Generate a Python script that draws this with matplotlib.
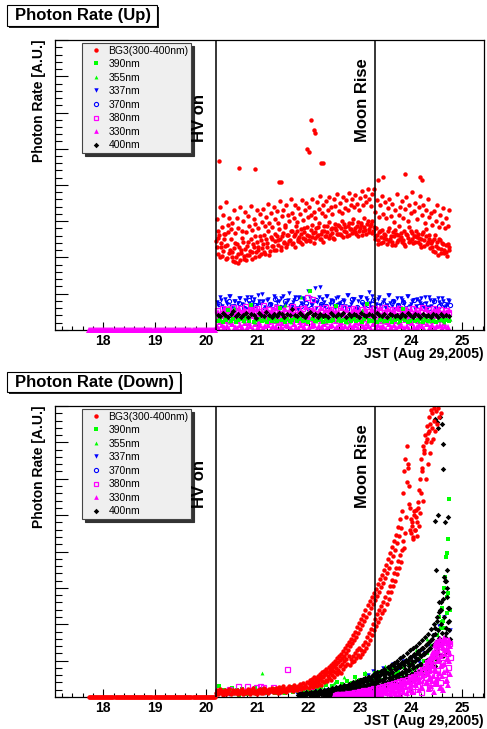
import numpy as np
import matplotlib
matplotlib.use('Agg')
import matplotlib.pyplot as plt
from matplotlib.lines import Line2D
from matplotlib.patches import Rectangle
from matplotlib.ticker import MultipleLocator, NullFormatter

plt.rcParams['font.family'] = ['Liberation Sans', 'DejaVu Sans']

W, H = 487, 729

HV_ON = 20.19
MOON_RISE = 23.30
X_RANGE = (17.06, 25.42)
Y_RANGE = (0, 8)

# before HV on every channel reads zero
PRE_T0, PRE_T1, PRE_DT = 17.72, 20.18, 0.02

#########################
## Photon rate (Up)
#########################
UP_RED_A = [2.45, 2.10, 2.62, 2.28, 2.05, 2.51, 2.33, 1.98, 2.70, 2.20,
            2.15, 1.90, 2.41, 2.02, 1.86, 2.30, 2.12, 2.55, 1.95, 2.24,
            2.08, 2.44, 2.18, 1.97, 2.36, 2.60, 2.14, 2.29, 2.03, 2.48,
            2.25, 2.62, 2.11, 2.40, 2.74, 2.19, 2.52, 2.33, 2.66, 2.21,
            2.47, 2.78, 2.30, 2.58, 2.42, 2.85, 2.36, 2.61, 2.49, 2.72,
            2.40, 2.64, 2.88, 2.45, 2.57, 2.79, 2.38, 2.69, 2.52, 2.83,
            2.60, 2.46, 2.91, 2.67, 2.53, 2.80, 2.62, 2.95, 2.50, 2.74,
            2.86, 2.58, 2.70, 2.97, 2.63, 2.82, 2.55, 2.92, 2.76, 2.65,
            2.88, 2.61, 3.02, 2.72, 2.84, 2.59, 2.96, 2.78, 2.68, 3.05,
            2.81, 2.66, 2.99, 2.74, 2.90, 2.62, 3.08, 2.77, 2.93, 2.70,
            2.86, 3.01, 2.73, 2.58, 2.82, 2.47, 2.69, 2.40, 2.76, 2.55,
            2.63, 2.38, 2.80, 2.52, 2.44, 2.71, 2.35, 2.66, 2.49, 2.87,
            2.57, 2.42, 2.74, 2.31, 2.62, 2.83, 2.46, 2.68, 2.39, 2.59,
            2.72, 2.44, 2.55, 2.30, 2.66, 2.48, 2.78, 2.36, 2.52, 2.27,
            2.45, 2.19, 2.61, 2.33, 2.08, 2.50, 2.24, 2.40, 2.12, 2.34,
            2.05, 2.28]
UP_RED_B = [3.05, 2.72, 3.40, 2.85, 3.18, 2.64, 3.52, 2.90, 3.10, 2.78,
            2.95, 3.30, 2.68, 3.08, 2.82, 3.38, 2.74, 3.02, 3.25, 2.70,
            3.15, 2.88, 3.42, 2.76, 3.05, 2.92, 3.30, 2.80, 3.20, 2.98,
            3.35, 2.86, 3.12, 3.48, 2.94, 3.22, 2.83, 3.40, 3.06, 3.28,
            2.96, 3.55, 3.14, 3.32, 2.90, 3.44, 3.18, 3.02, 3.60, 3.24,
            3.10, 3.46, 2.98, 3.36, 3.20, 3.58, 3.04, 3.30, 3.50, 3.12,
            3.40, 3.16, 3.62, 3.26, 3.08, 3.52, 3.34, 3.70, 3.22, 3.44,
            3.14, 3.56, 3.30, 3.66, 3.38, 3.20, 3.60, 3.42, 3.74, 3.28,
            3.50, 3.24, 3.68, 3.36, 3.58, 3.32, 3.78, 3.46, 3.62, 3.40,
            3.72, 3.48, 3.30, 3.64, 3.84, 3.44, 3.70, 3.54, 3.90, 3.60,
            3.42, 3.76, 3.88, 3.26, 3.58, 3.12, 3.46, 3.70, 3.20, 3.52,
            3.08, 3.36, 3.62, 3.14, 3.48, 2.98, 3.30, 3.74, 3.18, 3.40,
            3.56, 3.10, 3.34, 3.66, 3.02, 3.44, 3.22, 3.80, 3.28, 3.50,
            3.06, 3.38, 3.70, 3.16, 3.46, 2.96, 3.32, 3.60, 3.12, 3.24,
            2.90, 3.28, 3.02, 3.44, 2.84, 3.16, 2.94, 3.36, 2.80, 3.10,
            2.88, 3.30]
UP_RED_C = [2.30, 2.55, 2.02, 2.40, 2.18, 2.66, 1.96, 2.35, 2.12, 2.50,
            2.00, 2.25, 1.88, 2.36, 2.10, 1.92, 2.20, 2.44, 2.05, 1.94,
            2.32, 2.06, 2.52, 2.16, 2.28, 2.00, 2.42, 2.22, 2.58, 2.10,
            2.38, 2.16, 2.50, 2.28, 2.08, 2.56, 2.32, 2.20, 2.46, 2.60,
            2.34, 2.52, 2.22, 2.68, 2.40, 2.28, 2.62, 2.46, 2.74, 2.36,
            2.58, 2.30, 2.72, 2.50, 2.42, 2.66, 2.54, 2.80, 2.46, 2.62,
            2.48, 2.76, 2.56, 2.40, 2.70, 2.58, 2.84, 2.52, 2.66, 2.44,
            2.72, 2.60, 2.88, 2.54, 2.78, 2.68, 2.50, 2.82, 2.64, 2.90,
            2.66, 2.80, 2.56, 2.92, 2.70, 2.86, 2.62, 2.78, 2.94, 2.74,
            2.70, 2.88, 2.60, 2.82, 2.96, 2.72, 2.84, 2.66, 3.00, 2.78,
            2.92, 2.68, 2.84, 2.50, 2.62, 2.38, 2.72, 2.56, 2.44, 2.66,
            2.52, 2.74, 2.46, 2.60, 2.34, 2.58, 2.76, 2.42, 2.62, 2.50,
            2.68, 2.48, 2.36, 2.64, 2.54, 2.42, 2.72, 2.50, 2.60, 2.44,
            2.56, 2.64, 2.38, 2.52, 2.70, 2.32, 2.58, 2.44, 2.62, 2.40,
            2.30, 2.52, 2.16, 2.42, 2.26, 2.48, 2.12, 2.38, 2.22, 2.14,
            2.36, 2.20]
UP_RED_OUT_T = [20.26, 20.65, 20.95, 21.42, 21.47, 21.98, 22.00, 22.05, 22.10,
                22.12, 22.25, 22.28, 23.36, 23.46, 23.88, 24.17, 24.22]
UP_RED_OUT_Y = [4.66, 4.48, 4.43, 4.07, 4.07, 5.00, 4.92, 5.79, 5.52,
                5.43, 4.60, 4.62, 4.14, 4.22, 4.30, 4.23, 4.14]

UP_337 = [0.78, 0.92, 0.66, 0.85, 0.71, 0.95, 0.62, 0.80, 0.74, 0.88,
          0.69, 0.83, 0.58, 0.90, 0.76, 0.64, 0.97, 0.72, 0.81, 0.60,
          0.86, 0.70, 0.93, 0.67, 0.79, 0.89, 0.63, 0.75, 1.02, 0.68,
          0.84, 0.61, 0.91, 0.73, 0.82, 0.57, 0.88, 0.70, 1.15, 0.77,
          1.18, 0.86, 0.65, 0.94, 0.72, 0.80, 0.60, 0.90, 0.74, 0.83,
          0.66, 0.96, 0.71, 0.85, 0.62, 0.79, 0.92, 0.68, 0.87, 1.05,
          0.64, 0.81, 0.73, 0.90, 0.59, 0.84, 0.70, 0.97, 0.66, 0.78,
          0.88, 0.62, 0.83, 0.72, 0.93, 0.67, 0.80, 0.58, 0.86, 0.74,
          0.69, 0.91, 0.63, 0.82, 0.76, 0.60, 0.87, 0.71, 0.79, 0.65,
          0.84]
UP_337_B = [0.70, 0.84, 0.60, 0.77, 0.93, 0.66, 0.81, 0.56, 0.88, 0.73,
            0.62, 0.90, 0.75, 0.58, 0.86, 0.68, 0.79, 0.99, 0.64, 0.83,
            0.72, 0.57, 0.89, 0.76, 0.61, 0.94, 0.70, 0.82, 0.65, 0.78,
            0.91, 0.59, 0.74, 0.87, 0.66, 1.08, 0.71, 0.80, 0.62, 0.92,
            0.69, 0.76, 0.95, 0.58, 0.84, 0.67, 0.88, 0.73, 0.61, 0.80,
            0.96, 0.64, 0.77, 0.86, 0.59, 0.90, 0.72, 0.66, 0.82, 0.75,
            0.93, 0.60, 0.85, 0.70, 0.78, 0.63, 0.97, 0.74, 0.81, 0.58,
            0.68, 0.89, 0.76, 0.62, 0.94, 0.71, 0.84, 0.65, 0.79, 0.87,
            0.60, 0.74, 0.92, 0.67, 0.83, 0.56, 0.78, 0.88, 0.64, 0.73,
            0.81]
UP_370 = [0.72, 0.58, 0.81, 0.66, 0.75, 0.62, 0.84, 0.69, 0.77, 0.60,
          0.73, 0.86, 0.64, 0.79, 0.70, 0.88, 0.67, 0.74, 0.61, 0.83,
          0.71, 0.65, 0.80, 0.68, 0.76, 0.59, 0.85, 0.63, 0.78, 0.70,
          0.82, 0.66, 0.74, 0.61, 0.80, 0.69, 0.76, 0.63, 0.84, 0.67,
          0.72, 0.60, 0.79, 0.65, 0.73, 0.68]
UP_380 = [0.55, 0.42, 0.61, 0.48, 0.58, 0.38, 0.64, 0.52, 0.45, 0.60,
          0.50, 0.66, 0.40, 0.57, 0.47, 0.62, 0.53, 0.43, 0.68, 0.49,
          0.59, 0.41, 0.56, 0.63, 0.46, 0.54, 0.39, 0.60, 0.51, 0.65,
          0.44, 0.58, 0.48, 0.62, 0.37, 0.92, 0.55, 0.85, 0.47, 0.61,
          0.52, 0.42, 0.64, 0.50, 0.57, 0.45, 0.60, 0.40, 0.55, 0.63,
          0.48, 0.58, 0.44, 0.62, 0.51, 0.39, 0.57, 0.47, 0.66, 0.53,
          0.43, 0.61, 0.49, 0.56, 0.41, 0.64, 0.52, 0.46, 0.59, 0.38,
          0.55, 0.62, 0.44, 0.58, 0.50, 0.40, 0.60, 0.47, 0.54, 0.42,
          0.63, 0.49, 0.57, 0.45, 0.61, 0.52, 0.43, 0.58, 0.48, 0.55,
          0.50]
UP_330_A = [0.10, 0.04, 0.15, 0.07, 0.12, 0.03, 0.17, 0.09, 0.05, 0.14,
            0.08, 0.18, 0.06, 0.11, 0.02, 0.16, 0.09, 0.13, 0.05, 0.10,
            0.15, 0.04, 0.12, 0.07, 0.19, 0.08, 0.03, 0.14, 0.10, 0.06,
            0.16, 0.09, 0.04, 0.13, 0.07, 0.18, 0.05, 0.11, 0.15, 0.03,
            0.12, 0.08, 0.17, 0.06, 0.10, 0.14, 0.04, 0.09, 0.16, 0.07,
            0.11, 0.03, 0.15, 0.08, 0.13, 0.05, 0.18, 0.10, 0.06, 0.12,
            0.04, 0.16, 0.09, 0.14, 0.07, 0.11, 0.02, 0.17, 0.08, 0.13,
            0.05, 0.10, 0.15, 0.06, 0.12, 0.03, 0.18, 0.09, 0.07, 0.14,
            0.11, 0.04, 0.16, 0.08, 0.13, 0.06, 0.10, 0.15, 0.05, 0.12,
            0.09]
UP_330_B = [0.30, 0.22, 0.38, 0.26, 0.34, 0.21, 0.40, 0.28, 0.24, 0.36,
            0.27, 0.33, 0.20, 0.39, 0.25, 0.31, 0.23, 0.37, 0.29, 0.35,
            0.22, 0.41, 0.26, 0.32, 0.28, 0.20, 0.36, 0.30, 0.24, 0.38,
            0.27, 0.34, 0.21, 0.39, 0.25, 0.31, 0.29, 0.23, 0.37, 0.33,
            0.26, 0.40, 0.22, 0.35, 0.28, 0.30, 0.24, 0.38, 0.21, 0.32,
            0.36, 0.25, 0.29, 0.41, 0.23, 0.34, 0.27, 0.31, 0.20, 0.37,
            0.28, 0.33, 0.24, 0.39, 0.26, 0.30, 0.22, 0.35, 0.29, 0.25,
            0.38, 0.21, 0.32, 0.27, 0.36, 0.23, 0.30, 0.40, 0.26, 0.34,
            0.22, 0.37, 0.28, 0.31, 0.24, 0.39, 0.27, 0.33, 0.20, 0.35,
            0.29]
UP_330_C = [0.50, 0.42, 0.58, 0.46, 0.62, 0.40, 0.54, 0.48, 0.60, 0.44,
            0.56, 0.38, 0.52, 0.61, 0.45, 0.57, 0.41, 0.53, 0.49, 0.59,
            0.43, 0.55, 0.47, 0.62, 0.39, 0.51, 0.58, 0.44, 0.56, 0.48,
            0.60, 0.42, 0.54, 0.46, 0.63, 0.40, 0.52, 0.57, 0.45, 0.50,
            0.61, 0.43, 0.55, 0.48, 0.59, 0.41, 0.53, 0.46, 0.62, 0.44,
            0.56, 0.39, 0.51, 0.58, 0.47, 0.54, 0.42, 0.60, 0.49, 0.45,
            0.57, 0.41, 0.53, 0.62, 0.44, 0.50, 0.59, 0.43, 0.55, 0.47,
            0.61, 0.40, 0.52, 0.56, 0.46, 0.58, 0.42, 0.54, 0.48, 0.60,
            0.44, 0.57, 0.50, 0.41, 0.55, 0.47, 0.59, 0.43, 0.53, 0.49,
            0.56]
UP_390 = [0.26, 0.30, 0.23, 0.28, 0.55, 0.25, 0.31, 0.22, 0.27, 0.29,
          0.24, 0.32, 0.26, 0.70, 0.23, 0.28, 0.30, 0.25, 0.27, 0.22,
          0.31, 0.26, 0.29, 0.24, 0.60, 0.28, 0.23, 0.30, 0.25, 0.27,
          0.32, 0.24, 0.29, 0.26, 0.28, 0.22, 1.08, 0.30, 0.25, 0.27,
          0.31, 0.23, 0.29, 0.26, 0.24, 0.28, 0.65, 0.30, 0.25, 0.27,
          0.22, 0.29, 0.26, 0.31, 0.24, 0.28, 0.23, 0.30, 0.72, 0.27,
          0.25, 0.29, 0.22, 0.28, 0.31, 0.24, 0.26, 0.30, 0.23, 0.27,
          0.29, 0.25, 0.58, 0.28, 0.22, 0.26, 0.30, 0.24, 0.27, 0.31,
          0.23, 0.28, 0.25, 0.29, 0.26, 0.22, 0.30, 0.27, 0.24, 0.28,
          0.25]
UP_355 = [0.28, 0.34, 0.24, 0.62, 0.30, 0.26, 0.36, 0.22, 0.31, 0.27,
          0.33, 0.25, 0.29, 0.68, 0.23, 0.35, 0.90, 0.28, 0.32, 0.26,
          0.30, 0.24, 0.37, 0.27, 0.31, 0.22, 0.34, 0.29, 0.55, 0.26,
          0.33, 0.28, 0.25, 0.36, 0.30, 0.23, 0.32, 0.27, 0.29, 0.24,
          0.35, 0.26, 0.31, 0.28, 0.23, 0.30]
UP_400 = [0.42, 0.38, 0.47, 0.40, 0.36, 0.45, 0.52, 0.39, 0.43, 0.35,
          0.41, 0.48, 0.37, 0.44, 0.40, 0.34, 0.46, 0.42, 0.38, 0.50,
          0.41, 0.36, 0.44, 0.39, 0.47, 0.43, 0.37, 0.45, 0.40, 0.58,
          0.42, 0.38, 0.46, 0.41, 0.35, 0.44, 0.49, 0.40, 0.43, 0.37,
          0.45, 0.39, 0.42, 0.36, 0.47, 0.41, 0.38, 0.44, 0.40, 0.46,
          0.37, 0.43, 0.39, 0.45, 0.41, 0.36, 0.48, 0.42, 0.38, 0.44,
          0.40, 0.35, 0.46, 0.41, 0.39, 0.43, 0.37, 0.45, 0.40, 0.38,
          0.42, 0.36, 0.44, 0.39, 0.47, 0.41, 0.37, 0.43, 0.40, 0.35,
          0.45, 0.38, 0.42, 0.36, 0.44, 0.40, 0.37, 0.43, 0.39, 0.41,
          0.38]

#########################
## Photon rate (Down)
#########################
DN_RED = [0.12, 0.18, 0.08, 0.15, 0.22, 0.10, 0.16, 0.06, 0.13, 0.20,
          0.09, 0.17, 0.11, 0.21, 0.07, 0.14, 0.19, 0.10, 0.16, 0.12,
          0.20, 0.08, 0.15, 0.11, 0.18, 0.23, 0.09, 0.14, 0.17, 0.10,
          0.16, 0.21, 0.12, 0.08, 0.19, 0.14, 0.24, 0.11, 0.17, 0.13,
          0.09, 0.20, 0.15, 0.22, 0.12, 0.18, 0.10, 0.25, 0.14, 0.19,
          0.16, 0.11, 0.23, 0.17, 0.26, 0.13, 0.20, 0.15, 0.24, 0.18,
          0.12, 0.27, 0.19, 0.15, 0.22, 0.29, 0.17, 0.21, 0.14, 0.26,
          0.20, 0.31, 0.18, 0.24, 0.28, 0.16, 0.33, 0.22, 0.27, 0.19,
          0.30, 0.25, 0.35, 0.21, 0.28, 0.38, 0.24, 0.32, 0.27, 0.41,
          0.26, 0.36, 0.30, 0.44, 0.28, 0.39, 0.34, 0.47, 0.31, 0.42,
          0.37, 0.50, 0.33, 0.45, 0.55, 0.40, 0.62, 0.48, 0.43, 0.58,
          0.52, 0.66, 0.46, 0.60, 0.72, 0.55, 0.68, 0.80, 0.63, 0.75,
          0.70, 0.86, 0.66, 0.92, 0.78, 0.98, 0.84, 1.05, 0.90, 1.12,
          0.88, 1.05, 0.95, 1.12, 1.00, 1.20, 1.08, 1.28, 1.15, 1.35,
          1.10, 1.30, 1.18, 1.42, 1.26, 1.52, 1.36, 1.64, 1.46, 1.76,
          1.56, 1.88, 1.70, 2.02, 1.84, 2.15, 1.96, 2.28, 2.06, 2.38,
          2.18, 2.50, 2.30, 2.62, 2.40, 2.76, 2.55, 2.90, 2.70, 3.06,
          2.88, 3.22, 3.05, 3.40, 3.20, 3.56, 3.38, 3.74, 3.55, 3.90,
          3.70, 4.05, 4.30, 4.10, 4.50, 4.95, 5.90, 6.30, 5.30, 4.60,
          4.50, 4.80, 4.35, 5.10, 4.60, 4.95, 4.42, 5.20, 4.70, 5.05,
          5.60, 6.20, 5.40, 6.80, 6.00, 7.10, 6.40, 7.30, 6.70, 7.00,
          7.40, 7.10, 7.60, 7.30, 7.85, 7.50, 7.95, 7.70, 8.10, 7.80]
DN_RED_B = [0.38, 0.46, 0.34, 0.50, 0.42, 0.55, 0.40, 0.52, 0.47, 0.58,
            0.50, 0.62, 0.55, 0.68, 0.58, 0.72, 0.63, 0.78, 0.68, 0.82,
            0.74, 0.88, 0.79, 0.94, 0.85, 1.00, 0.90, 1.06, 0.96, 1.12,
            1.02, 1.18, 1.08, 1.26, 1.14, 1.34, 1.22, 1.42, 1.30, 1.52,
            1.40, 1.60, 1.48, 1.70, 1.56, 1.80, 1.66, 1.92, 1.76, 2.04,
            1.86, 2.14, 1.98, 2.26, 2.08, 2.40, 2.20, 2.52, 2.32, 2.64,
            2.44, 2.76, 2.56, 2.86, 2.66, 2.98, 2.78, 3.10, 2.90, 3.24,
            3.02, 3.36, 3.14, 3.50, 3.28, 3.64, 3.42, 3.80, 3.56, 3.96,
            3.72, 4.12, 3.88, 4.28, 4.04, 4.46, 4.22, 4.66, 4.42, 4.88,
            4.64, 5.10, 5.60, 6.20, 6.55, 6.90, 6.40, 5.80, 5.20, 4.90,
            4.70, 4.40, 5.00, 4.60, 5.15, 4.80, 5.35, 5.70, 6.00, 6.55,
            6.30, 6.90, 6.70, 7.20, 7.00, 7.45, 7.25, 7.70, 7.50, 7.90,
            7.80, 8.10, 7.95, 8.20, 8.05]
DN_400_A = [0.05, 0.10, 0.03, 0.08, 0.12, 0.04, 0.09, 0.06, 0.14, 0.07,
            0.11, 0.05, 0.15, 0.08, 0.12, 0.04, 0.17, 0.10, 0.06, 0.13,
            0.09, 0.18, 0.07, 0.14, 0.11, 0.20, 0.08, 0.16, 0.12, 0.22,
            0.10, 0.19, 0.14, 0.25, 0.09, 0.21, 0.16, 0.28, 0.12, 0.24,
            0.18, 0.30, 0.13, 0.26, 0.20, 0.34, 0.15, 0.29, 0.22, 0.36,
            0.17, 0.32, 0.25, 0.40, 0.19, 0.35, 0.27, 0.44, 0.21, 0.38,
            0.30, 0.48, 0.24, 0.42, 0.33, 0.52, 0.26, 0.45, 0.36, 0.56,
            0.28, 0.50, 0.39, 0.60, 0.31, 0.54, 0.43, 0.64, 0.34, 0.58,
            0.46, 0.68, 0.37, 0.62, 0.50, 0.72, 0.40, 0.66, 0.53, 0.78,
            0.44, 0.70, 0.57, 0.84, 0.48, 0.76, 0.60, 0.90, 0.52, 0.82,
            0.65, 0.95, 0.56, 0.88, 0.70, 1.02, 0.60, 0.93, 0.75, 1.10,
            0.64, 1.00, 0.80, 1.18, 0.68, 1.08, 0.86, 1.26, 0.72, 1.15,
            0.92, 1.35, 0.78, 1.22, 1.00, 1.45, 0.85, 1.32, 1.08, 1.58,
            0.95, 1.70, 1.20, 1.90, 1.05, 2.10, 1.40, 2.35, 1.15, 2.60,
            1.50, 2.90, 1.30, 3.20, 1.75, 3.50, 2.05, 2.45, 1.60]
DN_400_B = [0.02, 0.07, 0.04, 0.10, 0.03, 0.08, 0.05, 0.12, 0.06, 0.09,
            0.14, 0.07, 0.18, 0.10, 0.22, 0.12, 0.16, 0.26, 0.13, 0.20,
            0.30, 0.17, 0.24, 0.35, 0.19, 0.28, 0.40, 0.22, 0.33, 0.45,
            0.27, 0.38, 0.52, 0.31, 0.44, 0.58, 0.36, 0.50, 0.65, 0.42,
            0.56, 0.74, 0.48, 0.62, 0.82, 0.55, 0.70, 0.92, 0.64, 0.80,
            1.02, 0.74, 0.90, 1.15, 0.85, 1.30, 1.00, 1.45, 1.12, 1.65,
            1.25, 1.85]
DN_400_C = [0.06, 0.12, 0.04, 0.15, 0.09, 0.18, 0.07, 0.13, 0.20, 0.10,
            0.16, 0.08, 0.22, 0.12, 0.26, 0.14, 0.19, 0.30, 0.11, 0.24,
            0.33, 0.17, 0.28, 0.38, 0.21, 0.32, 0.14, 0.42, 0.26, 0.36,
            0.46, 0.22, 0.40, 0.50, 0.30, 0.18, 0.44, 0.55, 0.34, 0.48,
            0.26, 0.58, 0.40, 0.62, 0.32, 0.52, 0.68, 0.44, 0.28, 0.60,
            0.72, 0.48, 0.36, 0.78, 0.56, 0.66, 0.42, 0.82, 0.62, 0.50,
            0.88, 0.70, 0.46, 0.94, 0.76, 0.58, 1.00, 0.84, 0.64, 1.06,
            0.90, 0.70, 1.12, 0.96, 0.78, 1.20, 1.02, 0.86, 1.28, 1.10,
            0.92, 1.34, 1.16, 0.98, 1.40, 1.22, 1.05, 1.48, 1.30, 1.12,
            1.56, 1.36, 1.18, 1.64, 1.44, 1.26, 1.74, 1.52, 1.34, 1.86,
            1.60, 1.42, 2.00, 1.72, 1.50, 2.20, 1.85, 1.62, 2.40, 2.00,
            1.75, 2.70, 2.20, 1.90, 3.00, 2.45, 2.10]
DN_400_OUT_T = [24.46, 24.50, 24.53, 24.56, 24.60, 24.63, 24.62, 24.47, 24.52,
                24.66, 24.72, 24.49, 24.64, 24.68, 24.55, 24.70, 24.58]
DN_400_OUT_Y = [7.65, 7.55, 7.40, 7.70, 7.50, 6.95, 6.28, 4.85, 5.00,
                4.80, 4.95, 3.50, 3.30, 3.20, 2.60, 2.75, 2.40]
DN_390 = [0.30, 0.12, 0.20, 0.08, 0.15, 0.25, 0.10, 0.18, 0.06, 0.22,
          0.14, 0.09, 0.19, 0.11, 0.24, 0.07, 0.16, 0.21, 0.13, 0.10,
          0.18, 0.23, 0.12, 0.20, 0.15, 0.26, 0.11, 0.19, 0.28, 0.14,
          0.22, 0.17, 0.30, 0.13, 0.25, 0.20, 0.33, 0.16, 0.28, 0.22,
          0.28, 0.15, 0.34, 0.20, 0.30, 0.18, 0.40, 0.24, 0.36, 0.26,
          0.45, 0.30, 0.38, 0.55, 0.33, 0.46, 0.40, 0.62, 0.44, 0.52,
          0.48, 0.66, 0.52, 0.70, 0.46, 0.58, 0.74, 0.54, 0.80, 0.62,
          0.70, 0.58, 0.82, 0.66, 0.90, 0.74, 0.96, 0.80, 1.05, 0.88,
          1.00, 1.20, 0.95, 1.40, 1.15, 1.70, 1.40, 2.05, 1.90, 2.30,
          2.40]
DN_390_OUT_T = [24.55, 24.60, 24.64, 24.66, 24.68, 24.70, 24.72, 24.73, 24.69,
                24.71, 24.62, 24.58]
DN_390_OUT_Y = [2.20, 2.45, 3.00, 3.30, 3.85, 3.95, 4.35, 5.45, 2.75,
                2.85, 2.10, 1.90]
DN_355 = [0.18, 0.12, 0.22, 0.15, 0.65, 0.20, 0.14, 0.25, 0.18, 0.30,
          0.24, 0.38, 0.55, 0.48, 0.70, 0.62, 0.85, 0.78, 1.05, 1.30,
          1.60, 2.10, 2.80]
DN_337 = [0.10, 0.14, 0.08, 0.12, 0.16, 0.09, 0.13, 0.11, 0.15, 0.10,
          0.14, 0.18, 0.12, 0.16, 0.20, 0.13, 0.17, 0.22, 0.15, 0.19,
          0.24, 0.18, 0.28, 0.22, 0.32, 0.26, 0.36, 0.30, 0.45, 0.60,
          0.72, 0.55, 0.80, 0.68, 0.90, 0.75, 1.00, 0.85, 1.10, 0.95,
          1.20, 1.45, 1.70, 1.95, 2.20, 1.85]
DN_380_EARLY_T = [20.45, 20.62, 20.80, 20.98, 21.05, 21.12, 21.30, 21.59, 21.75, 22.05]
DN_380_EARLY_Y = [0.22, 0.30, 0.30, 0.28, 0.30, 0.28, 0.28, 0.76, 0.25, 0.30]
DN_380 = [0.05, 0.02, 0.08, 0.04, 0.07, 0.02, 0.09, 0.05, 0.07, 0.03,
          0.09, 0.06, 0.03, 0.11, 0.07, 0.02, 0.12, 0.08, 0.05, 0.13,
          0.07, 0.15, 0.03, 0.11, 0.17, 0.06, 0.14, 0.09, 0.19, 0.04,
          0.16, 0.20, 0.08, 0.12, 0.22, 0.05, 0.18, 0.24, 0.10, 0.15,
          0.26, 0.04, 0.20, 0.28, 0.12, 0.23, 0.30, 0.16, 0.08, 0.28,
          0.32, 0.20, 0.13, 0.35, 0.24, 0.07, 0.33, 0.38, 0.18, 0.30,
          0.40, 0.12, 0.35, 0.44, 0.26, 0.20, 0.46, 0.38, 0.06, 0.45,
          0.50, 0.32, 0.22, 0.54, 0.42, 0.16, 0.58, 0.38, 0.48, 0.64,
          0.30, 0.58, 0.72, 0.46, 0.14, 0.78, 0.64, 0.40, 0.85, 0.55,
          0.95, 0.74, 0.28, 1.02, 0.62, 0.88, 1.15, 0.50, 1.05, 1.30,
          0.75, 1.40, 1.15, 0.42, 1.50, 0.95, 1.38, 0.62, 1.56, 1.22,
          0.82, 1.48, 1.10]
DN_330 = [0.03, 0.06, 0.02, 0.05, 0.08, 0.03, 0.06, 0.02, 0.09, 0.04,
          0.07, 0.03, 0.10, 0.05, 0.04, 0.09, 0.06, 0.11, 0.04, 0.08,
          0.10, 0.05, 0.12, 0.07, 0.14, 0.04, 0.11, 0.15, 0.08, 0.13,
          0.06, 0.16, 0.10, 0.18, 0.07, 0.14, 0.19, 0.11, 0.05, 0.17,
          0.20, 0.09, 0.15, 0.22, 0.12, 0.06, 0.19, 0.24, 0.13, 0.18,
          0.26, 0.10, 0.21, 0.29, 0.15, 0.05, 0.24, 0.32, 0.18, 0.12,
          0.30, 0.36, 0.20, 0.08, 0.33, 0.40, 0.24, 0.15, 0.37, 0.44,
          0.28, 0.10, 0.42, 0.50, 0.20, 0.35, 0.55, 0.14, 0.46, 0.60,
          0.32, 0.52, 0.66, 0.20, 0.44, 0.72, 0.28, 0.60, 0.80, 0.38,
          0.70, 0.90, 0.25, 0.56, 1.00, 0.45, 0.85, 1.12, 0.35, 0.72,
          1.30, 0.55, 1.05, 1.42, 0.28, 0.88, 1.50, 0.70, 1.18, 1.56,
          0.48, 1.32, 1.00, 1.50]
DN_330_END = [0.85, 0.40, 0.98, 0.62, 0.22, 1.02, 0.76, 0.50, 1.08, 0.30,
              1.15, 0.88, 0.58, 1.25, 0.15, 1.10, 1.42, 0.78, 0.48, 1.50,
              1.22, 0.36, 1.55, 1.00, 0.66, 1.45, 0.26, 1.60, 1.12, 0.84,
              1.52, 0.58, 1.38, 0.18, 1.62, 0.92, 1.30, 0.44, 1.58, 1.05,
              0.74, 1.48, 0.34, 1.25, 1.56, 0.62, 1.40]

CHANNELS = ['BG3(300-400nm)', '390nm', '355nm', '337nm', '370nm', '380nm', '330nm', '400nm']
STYLE = {
    'BG3(300-400nm)': dict(marker='o', color='#ff0000', ms=3.2, mew=0),
    '390nm': dict(marker='s', color='#00ff00', ms=2.6, mew=0),
    '355nm': dict(marker='^', color='#00ff00', ms=2.8, mew=0),
    '337nm': dict(marker='v', color='#0000ff', ms=3.2, mew=0),
    '370nm': dict(marker='o', color='#0000ff', mfc='none', ms=3.0, mew=0.8),
    '380nm': dict(marker='s', color='#ff00ff', mfc='none', ms=3.6, mew=0.9),
    '330nm': dict(marker='^', color='#ff00ff', ms=4.3, mew=0),
    '400nm': dict(marker='D', color='#000000', ms=2.8, mew=0),
}


def sampled(t0, dt, values):
    return t0 + dt * np.arange(len(values)), np.asarray(values)


UP_SERIES = {
    'BG3(300-400nm)': [sampled(20.20, 0.03, UP_RED_A), sampled(20.215, 0.03, UP_RED_B),
                       sampled(20.21, 0.03, UP_RED_C), (UP_RED_OUT_T, UP_RED_OUT_Y)],
    '337nm': [sampled(20.22, 0.05, UP_337), sampled(20.245, 0.05, UP_337_B)],
    '370nm': [sampled(20.25, 0.10, UP_370)],
    '380nm': [sampled(20.22, 0.05, UP_380)],
    '330nm': [sampled(20.21, 0.05, UP_330_A), sampled(20.235, 0.05, UP_330_B),
              sampled(20.245, 0.05, UP_330_C)],
    '390nm': [sampled(20.235, 0.05, UP_390)],
    '355nm': [sampled(20.25, 0.10, UP_355)],
    '400nm': [sampled(20.23, 0.05, UP_400)],
}
DN_SERIES = {
    '337nm': [sampled(20.25, 0.10, DN_337)],
    '390nm': [sampled(20.25, 0.05, DN_390), (DN_390_OUT_T, DN_390_OUT_Y)],
    '355nm': [sampled(20.30, 0.20, DN_355)],
    '400nm': [sampled(21.80, 0.02, DN_400_A), sampled(22.30, 0.04, DN_400_B),
              sampled(22.41, 0.02, DN_400_C), (DN_400_OUT_T, DN_400_OUT_Y)],
    '380nm': [(DN_380_EARLY_T, DN_380_EARLY_Y), sampled(22.51, 0.02, DN_380)],
    '330nm': [sampled(22.50, 0.02, DN_330), sampled(24.30, 0.01, DN_330_END)],
    'BG3(300-400nm)': [sampled(20.20, 0.02, DN_RED), sampled(22.01, 0.02, DN_RED_B)],
}

fig = plt.figure(figsize=(W / 100, H / 100), dpi=100)


def px_rect(x0, y0, x1, y1):
    return [x0 / W, 1 - y1 / H, (x1 - x0) / W, (y1 - y0) / H]


def title_box(text, x0, y0, x1, y1):
    sx, sy, sw, sh = px_rect(x0 + 2, y0 + 2, x1 + 2, y1 + 2)
    fig.patches.append(Rectangle((sx, sy), sw, sh, transform=fig.transFigure,
                                 fc='#222222', ec='none'))
    bx, by, bw, bh = px_rect(x0, y0, x1, y1)
    fig.patches.append(Rectangle((bx, by), bw, bh, transform=fig.transFigure,
                                 fc='white', ec='black', lw=0.8))
    fig.text((x0 + 8) / W, 1 - (y0 + y1) / 2 / H, text, fontsize=12,
             fontweight='bold', ha='left', va='center')


def draw_panel(ax, series, pre_channel):
    ## pre HV: zero rate
    pre_t = np.arange(PRE_T0, PRE_T1, PRE_DT)
    ax.plot(pre_t, np.zeros(len(pre_t)), ls='none', clip_on=False, zorder=3,
            **STYLE[pre_channel])
    for ch, chunks in series.items():
        for t, y in chunks:
            ax.plot(t, y, ls='none', zorder=2, **STYLE[ch])

    ax.axvline(HV_ON, color='black', lw=1.1, zorder=4)
    ax.axvline(MOON_RISE, color='black', lw=1.1, zorder=4)
    ax.annotate('HV on', xy=(HV_ON, 5.2), xytext=(-6, 0), textcoords='offset points',
                rotation=90, ha='right', va='bottom', fontsize=12, fontweight='bold', zorder=6)
    ax.annotate('Moon Rise', xy=(MOON_RISE, 5.2), xytext=(-4, 0), textcoords='offset points',
                rotation=90, ha='right', va='bottom', fontsize=12, fontweight='bold', zorder=6)

    ax.set_xlim(*X_RANGE)
    ax.set_ylim(*Y_RANGE)
    ax.xaxis.set_major_locator(MultipleLocator(1))
    ax.xaxis.set_minor_locator(MultipleLocator(0.2))
    ax.yaxis.set_major_locator(MultipleLocator(1))
    ax.yaxis.set_minor_locator(MultipleLocator(0.2))
    ax.yaxis.set_major_formatter(NullFormatter())
    ax.tick_params(axis='both', which='both', direction='in', top=False, right=False)
    ax.tick_params(axis='y', which='major', length=9, width=0.8)
    ax.tick_params(axis='y', which='minor', length=4.7, width=0.8)
    ax.tick_params(axis='x', which='major', length=6, width=0.8, pad=3)
    ax.tick_params(axis='x', which='minor', length=3, width=0.8)
    for lab in ax.get_xticklabels():
        lab.set_fontweight('bold')
        lab.set_fontsize(10)
    for sp in ax.spines.values():
        sp.set_linewidth(0.9)
    ax.set_xlabel('JST (Aug 29,2005)', loc='right', fontsize=10, fontweight='bold', labelpad=-1)
    ax.set_ylabel('Photon Rate [A.U.]', loc='top', fontsize=10, fontweight='bold', labelpad=3)

    handles = [Line2D([], [], ls='none', **dict(STYLE[ch], ms=min(STYLE[ch]['ms'], 3.4)))
               for ch in CHANNELS]
    leg = ax.legend(handles, CHANNELS, loc='upper left', bbox_to_anchor=(0.063, 0.99),
                    borderaxespad=0, fontsize=7.5, frameon=True, fancybox=False,
                    borderpad=0.25, labelspacing=0.34, handlelength=2.1, handletextpad=0.2,
                    shadow={'color': '#333333', 'alpha': 1})
    leg.get_frame().set_facecolor('#efefef')
    leg.get_frame().set_edgecolor('#444444')
    leg.get_frame().set_linewidth(0.8)
    leg.set_zorder(5)


ax_up = fig.add_axes(px_rect(55, 40, 484, 330))
draw_panel(ax_up, UP_SERIES, '330nm')
title_box('Photon Rate (Up)', 7, 5, 157, 26)

ax_dn = fig.add_axes(px_rect(55, 406, 484, 697))
draw_panel(ax_dn, DN_SERIES, 'BG3(300-400nm)')
title_box('Photon Rate (Down)', 7, 372, 180, 392)

fig.savefig('out.png', dpi=100)
